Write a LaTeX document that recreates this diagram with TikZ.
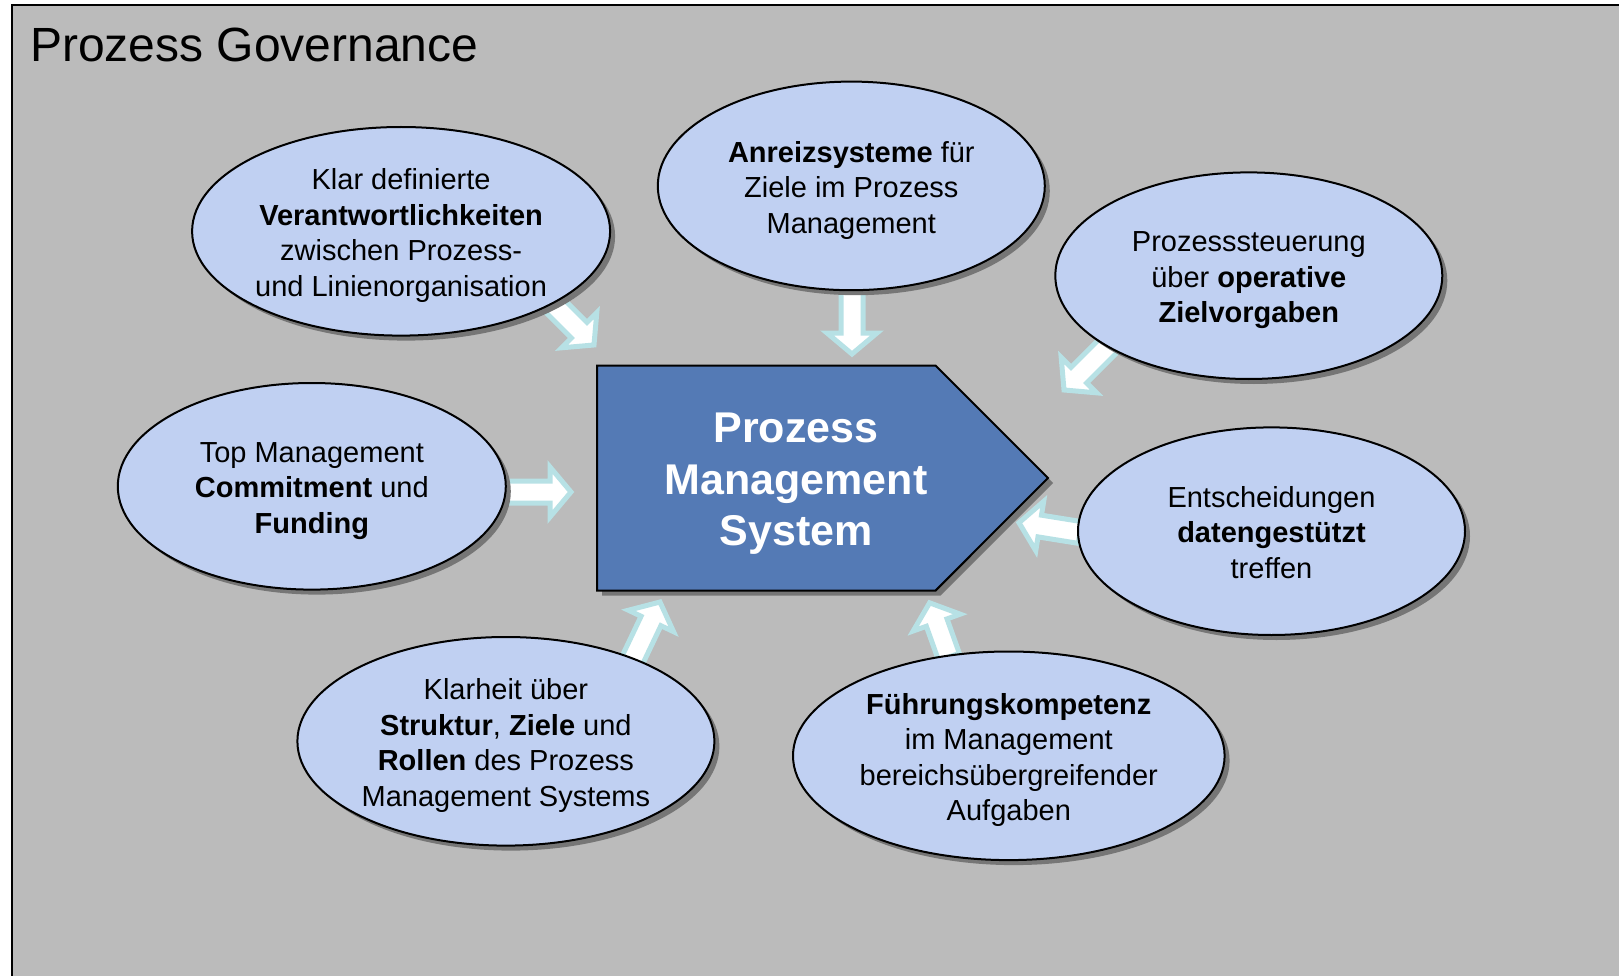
\documentclass[tikz,border=0pt]{standalone}
\usepackage{fontspec}
\setmainfont{Liberation Sans}
\usetikzlibrary{shapes.geometric,shadows,calc}
\definecolor{bgpanel}{RGB}{187,187,187}
\definecolor{ellfill}{RGB}{192,208,242}
\definecolor{pmsfill}{RGB}{84,122,181}
\definecolor{arrowedge}{RGB}{183,225,229}
\definecolor{shadowc}{RGB}{118,118,118}

\newcommand\tstrut{\rule{0pt}{29.5pt}}
\newcommand\tstrutb{\rule{0pt}{23.5pt}}

\tikzset{
  ellbox/.style={ellipse, draw=black, line width=2pt, fill=ellfill, inner sep=0pt,
    align=center, font=\fontsize{29}{35.4}\selectfont,
    drop shadow={shadow xshift=5pt, shadow yshift=-5pt, fill=shadowc, opacity=1}},
  blockarrowstyle/.style={draw=arrowedge, fill=white, line width=5pt, line join=miter},
  pmsshape/.style={draw=black, line width=2pt, fill=pmsfill},
  pmstext/.style={text=white, align=center, font=\bfseries\fontsize{43}{51.6}\selectfont},
  titletext/.style={anchor=base west, inner sep=0pt, font=\fontsize{48}{56}\selectfont}
}

\newcommand\blockarrow[2]{%
  \path let \p1=(#1), \p2=(#2) in \pgfextra{%
    \pgfmathsetmacro\baang{atan2(\y2-\y1,\x2-\x1)}%
    \pgfmathsetmacro\balen{veclen(\x2-\x1,\y2-\y1)}%
    \pgfmathsetmacro\babase{\balen-21}%
    \global\let\baang\baang\global\let\balen\balen\global\let\babase\babase};
  \draw[blockarrowstyle, shift={(#1)}, rotate=\baang]
    (0,-11) -- (\babase,-11) -- (\babase,-25) -- (\balen,0) -- (\babase,25) -- (\babase,11) -- (0,11) -- cycle;
}

\begin{document}
\begin{tikzpicture}[x=1pt, y=-1pt]
\useasboundingbox (0,0) rectangle (1619,976);
\fill[white] (0,0) rectangle (1619,976);
\draw[fill=bgpanel, line width=2pt] (12,5) rectangle (1640,1000);

\node[titletext] (title) at (30,62) {Prozess Governance};

% arrow end points
\coordinate (tA) at (548,299);   \coordinate (hA) at (594,345);
\coordinate (tB) at (852,287);   \coordinate (hB) at (852,354);
\coordinate (tC) at (503,492);   \coordinate (hC) at (571,492);
\coordinate (tD) at (631,663);   \coordinate (hD) at (660,602);
\coordinate (tE) at (949,657);   \coordinate (hE) at (929.6,602.8);
\coordinate (tF) at (1111,343);  \coordinate (hF) at (1064,390);
\coordinate (tG) at (1080,532.5);\coordinate (hG) at (1019,522.7);

\blockarrow{tA}{hA}
\blockarrow{tB}{hB}
\blockarrow{tC}{hC}
\blockarrow{tD}{hD}
\blockarrow{tE}{hE}
\blockarrow{tF}{hF}
\blockarrow{tG}{hG}

% central pentagon
\fill[shadowc, xshift=5pt, yshift=-5pt] (597,365.5) -- (935.5,365.5) -- (1048,478) -- (935.5,590.6) -- (597,590.6) -- cycle;
\draw[pmsshape] (597,365.5) -- (935.5,365.5) -- (1048,478) -- (935.5,590.6) -- (597,590.6) -- cycle;
\node[pmstext] (pms) at (796,484) {Prozess\\Management\\System};

% ellipses
\node[ellbox, minimum width=418, minimum height=208.6] (e1) at (401.1,231.3)
  {\tstrut Klar definierte\\\textbf{Verantwortlichkeiten}\\zwischen Prozess-\\und Linienorganisation};
\node[ellbox, minimum width=387, minimum height=208.6] (e2) at (851.3,185.9)
  {\tstrut\textbf{Anreizsysteme} für\\Ziele im Prozess\\Management};
\node[ellbox, minimum width=387, minimum height=206.6] (e3) at (1248.8,275.7)
  {\tstrut Prozesssteuerung\\über \textbf{operative}\\\textbf{Zielvorgaben}};
\node[ellbox, minimum width=388, minimum height=206.6] (e4) at (311.8,486.3)
  {\tstrut Top Management\\\textbf{Commitment} und\\\textbf{Funding}};
\node[ellbox, minimum width=387, minimum height=207.6] (e5) at (1271.5,531.2)
  {\tstrutb Entscheidungen\\\textbf{datengestützt}\\treffen};
\node[ellbox, minimum width=417, minimum height=208.6] (e6) at (505.9,741.3)
  {\tstrut Klarheit über\\\textbf{Struktur}, \textbf{Ziele} und\\\textbf{Rollen} des Prozess\\Management Systems};
\node[ellbox, minimum width=431.6, minimum height=208.6] (e7) at (1008.8,755.8)
  {\tstrut\textbf{Führungskompetenz}\\im Management\\bereichsübergreifender\\Aufgaben};
\end{tikzpicture}
\end{document}
